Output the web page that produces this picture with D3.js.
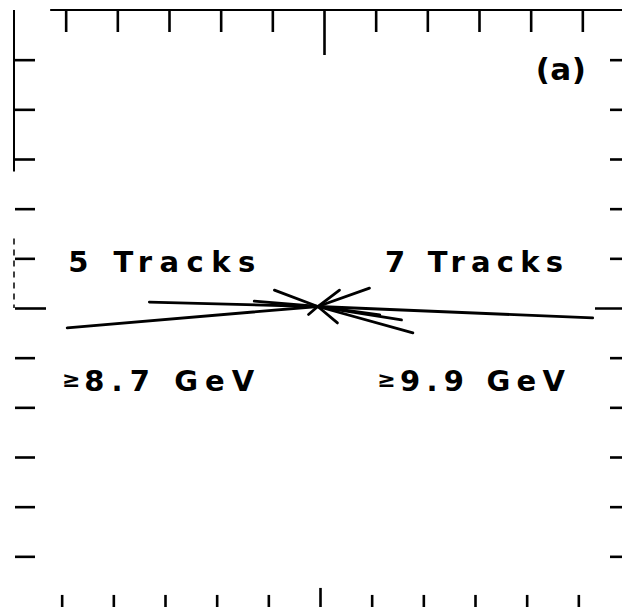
<!DOCTYPE html>
<html>
<head>
<meta charset="utf-8">
<script src="https://cdn.jsdelivr.net/npm/d3@7"></script>
<style>
  body { margin: 0; background: #fff; }
  svg { display: block; }
  .lbl { font-family: "DejaVu Sans", sans-serif; fill: #000; }
</style>
</head>
<body>
<div id="chart"></div>
<script>
// tick positions in frame units (frame spans -6..6 both ways)
const tickValues = [-5, -4, -3, -2, -1, 0, 1, 2, 3, 4, 5];

// event vertex and track end points
const vertex = [-0.12, 0.03];
const leftTracks = [
  [-4.97, -0.40],
  [-3.38, 0.12],
  [-1.35, 0.14],
  [-0.96, 0.36],
  [-0.30, -0.13]
];
const rightTracks = [
  [5.20, -0.20],
  [1.50, -0.24],
  [1.72, -0.50],
  [1.08, -0.14],
  [0.30, 0.36],
  [0.88, 0.40],
  [0.26, -0.30]
];

// labels: [text, x, y, width]
const labels = [
  ['5 Tracks', -4.95, 0.73, 187],
  ['7 Tracks', 1.18, 0.73, 178],
  ['8.7 GeV', -4.64, -1.67, 170],
  ['9.9 GeV', 1.47, -1.67, 165]
];
const geqMarks = [[-5.07, -1.6], [1.03, -1.6]];
const panelTag = '(a)';

const width = 622;
const height = 607;

const svg = d3.select('#chart').append('svg')
  .attr('width', width)
  .attr('height', height);

const x = d3.scaleLinear().domain([-6, 6]).range([14, 634]);
const y = d3.scaleLinear().domain([6, -6]).range([10, 606]);

// frame pieces (the scan only shows parts of it)
svg.append('line')
  .attr('x1', x(-5.3)).attr('x2', x(6))
  .attr('y1', y(6)).attr('y2', y(6))
  .attr('stroke', '#000').attr('stroke-width', 2);
svg.append('line')
  .attr('x1', x(-6)).attr('x2', x(-6))
  .attr('y1', y(6)).attr('y2', y(2.75))
  .attr('stroke', '#000').attr('stroke-width', 2);
svg.append('line')
  .attr('x1', x(-6)).attr('x2', x(-6))
  .attr('y1', y(1.4)).attr('y2', y(0))
  .attr('stroke', '#000').attr('stroke-width', 1.5)
  .attr('stroke-dasharray', '6 5');

function styleAxis(g, centerLen) {
  g.select('.domain').remove();
  g.selectAll('.tick text').remove();
  g.selectAll('.tick line')
    .attr('stroke', '#000')
    .attr('stroke-width', 2.6);
  g.selectAll('.tick').filter(d => d === 0).select('line')
    .each(function() {
      const l = d3.select(this);
      if (l.attr('x2') !== null && +l.attr('x2') !== 0) l.attr('x2', Math.sign(+l.attr('x2')) * centerLen);
      if (l.attr('y2') !== null && +l.attr('y2') !== 0) l.attr('y2', Math.sign(+l.attr('y2')) * centerLen);
    });
}

svg.append('g')
  .attr('transform', `translate(0,${y(6)})`)
  .call(d3.axisBottom(x).tickValues(tickValues).tickSize(22))
  .call(g => styleAxis(g, 45));
svg.append('g')
  .attr('transform', `translate(-4,${y(-6.22)})`)
  .call(d3.axisTop(x).tickValues(tickValues).tickSize(22))
  .call(g => styleAxis(g, 29));
svg.append('g')
  .attr('transform', `translate(${x(-6) + 1},0)`)
  .call(d3.axisRight(y).tickValues(tickValues).tickSize(20))
  .call(g => styleAxis(g, 31));
svg.append('g')
  .attr('transform', `translate(${x(6)},0)`)
  .call(d3.axisLeft(y).tickValues(tickValues).tickSize(24))
  .call(g => styleAxis(g, 39));

// tracks
const tracks = leftTracks.concat(rightTracks);
svg.append('g')
  .selectAll('line')
  .data(tracks)
  .join('line')
  .attr('x1', x(vertex[0]))
  .attr('y1', y(vertex[1]))
  .attr('x2', d => x(d[0]))
  .attr('y2', d => y(d[1]))
  .attr('stroke', '#000')
  .attr('stroke-width', 2.8)
  .attr('stroke-linecap', 'round');

// labels
svg.append('g')
  .selectAll('text')
  .data(labels)
  .join('text')
  .attr('class', 'lbl')
  .attr('x', d => x(d[1]))
  .attr('y', d => y(d[2]))
  .attr('font-size', 29)
  .attr('font-weight', 'bold')
  .attr('textLength', d => d[3])
  .attr('lengthAdjust', 'spacing')
  .text(d => d[0]);

svg.append('g')
  .selectAll('text')
  .data(geqMarks)
  .join('text')
  .attr('class', 'lbl')
  .attr('x', d => x(d[0]))
  .attr('y', d => y(d[1]))
  .attr('font-size', 22)
  .attr('font-weight', 'bold')
  .text('≥');

svg.append('text')
  .attr('class', 'lbl')
  .attr('x', x(4.1))
  .attr('y', y(4.6))
  .attr('font-size', 31)
  .attr('font-weight', 'bold')
  .attr('textLength', 50)
  .attr('lengthAdjust', 'spacing')
  .text(panelTag);
</script>
</body>
</html>
